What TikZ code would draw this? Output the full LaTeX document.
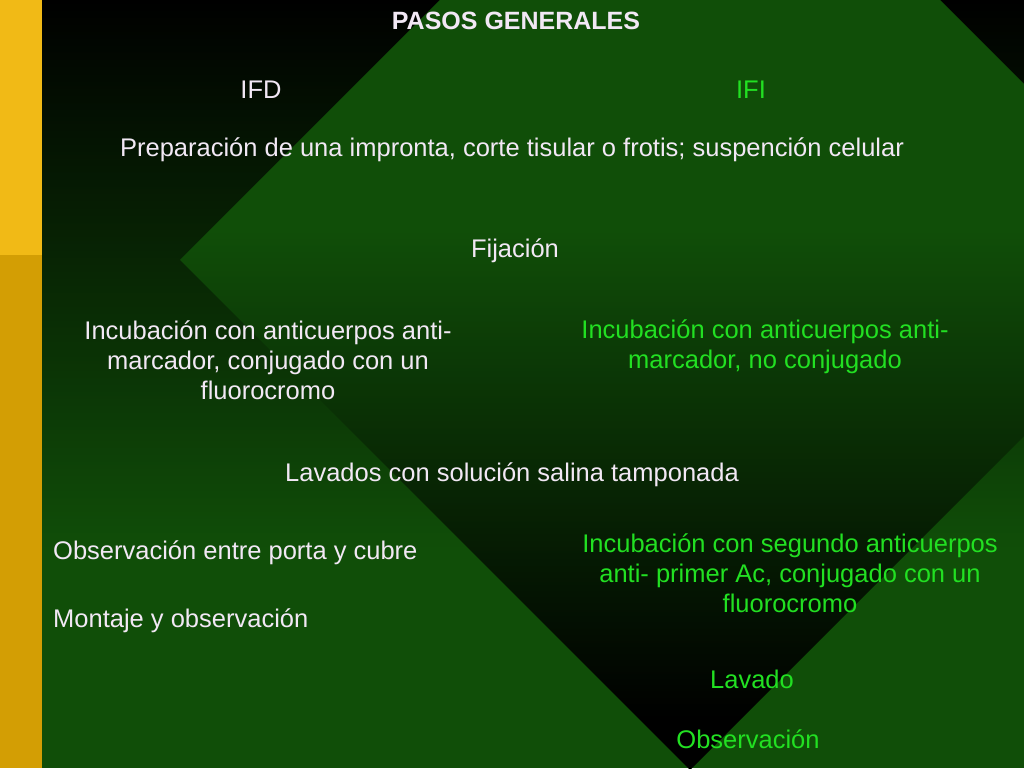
\documentclass[tikz,border=0pt]{standalone}
\usepackage{fontspec}
\setmainfont{Liberation Sans}
\definecolor{fondo}{RGB}{16,78,8}
\definecolor{franja}{RGB}{241,186,22}
\definecolor{franjabaja}{RGB}{211,158,4}
\definecolor{blanco}{RGB}{242,232,245}
\definecolor{verdeifi}{RGB}{34,224,34}
\pgfdeclareverticalshading{rombo}{100bp}{color(0bp)=(black); color(27.5bp)=(black); color(51.5bp)=(fondo); color(100bp)=(fondo)}

\begin{document}
\begin{tikzpicture}[x=1pt,y=1pt,
  txt/.style={text=blanco,font=\fontsize{25.5}{30}\selectfont,align=center,inner sep=0pt},
  txtifi/.style={txt,text=verdeifi}]
\useasboundingbox (0,0) rectangle (1024,768);
\clip (0,0) rectangle (1024,768);
\shade [top color=black,bottom color=fondo] (42,218) rectangle (1024,768);
\fill [fondo] (42,0) rectangle (1024,218);
\shade [shading=rombo] (690,1018)--(1200,508)--(690,-2)--(180,508)--cycle;
\fill [franja] (0,513) rectangle (42,768);
\fill [franjabaja] (0,0) rectangle (42,513);

\node[txt,font=\bfseries\fontsize{25}{30}\selectfont,anchor=base] (pasos) at (516,738) {PASOS GENERALES};
\node[txt,anchor=base] (ifd) at (261,669) {IFD};
\node[txtifi,anchor=base] (ifi) at (751,669) {IFI};
\node[txt,anchor=base] (preparacion) at (512,611) {Preparación de una impronta, corte tisular o frotis; suspención celular};
\node[txt,anchor=base] (fijacion) at (515,510) {Fijación};
\node[txt] (incifd) at (268,408) {Incubación con anticuerpos anti-\\marcador, conjugado con un\\fluorocromo};
\node[txtifi] (incifi) at (765,421) {Incubación con anticuerpos anti-\\marcador, no conjugado};
\node[txt,anchor=base] (lavados) at (512,286) {Lavados con solución salina tamponada};
\node[txt,anchor=base west] (obsifd) at (53,208) {Observación entre porta y cubre};
\node[txt,anchor=base west] (montaje) at (53,140) {Montaje y observación};
\node[txtifi] (segundo) at (790,195) {Incubación con segundo anticuerpos\\anti- primer Ac, conjugado con un\\fluorocromo};
\node[txtifi,anchor=base] (lavado) at (752,80) {Lavado};
\node[txtifi,anchor=base] (obsifi) at (748,20) {Observación};
\end{tikzpicture}
\end{document}
